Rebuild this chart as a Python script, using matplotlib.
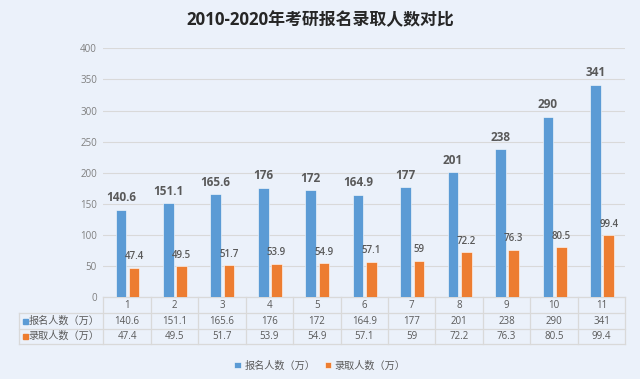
import matplotlib
matplotlib.use("Agg")
import matplotlib.pyplot as plt
from matplotlib.patches import Rectangle
import numpy as np

plt.rcParams['font.family'] = ['Open Sans', 'Noto Sans CJK SC', 'DejaVu Sans']

title = "2010-2020年考研报名录取人数对比"
categories = ["1", "2", "3", "4", "5", "6", "7", "8", "9", "10", "11"]
applicants = [140.6, 151.1, 165.6, 176, 172, 164.9, 177, 201, 238, 290, 341]
admitted = [47.4, 49.5, 51.7, 53.9, 54.9, 57.1, 59, 72.2, 76.3, 80.5, 99.4]
series_names = ["报名人数（万）", "录取人数（万）"]
yticks = [0, 50, 100, 150, 200, 250, 300, 350, 400]

BLUE = "#5B9BD5"
ORANGE = "#ED7D31"
BG = "#EBF1FA"
GRID = "#D9D9D9"
TXT = "#595959"

def fmt(v):
    return ("%g" % v)

fig = plt.figure(figsize=(6.4, 3.79), dpi=100)
fig.patch.set_facecolor(BG)
ax = fig.add_axes([103.3/640, 1-297.3/379, 522/640, (297.3-48.3)/379])
ax.set_facecolor(BG)

x = np.arange(1, len(categories)+1)
w = 0.225
b1 = ax.bar(x-0.13, applicants, w, color=BLUE, edgecolor="#FFFFFF", linewidth=0.4, zorder=3)
b2 = ax.bar(x+0.15, admitted, w, color=ORANGE, edgecolor="#FFFFFF", linewidth=0.4, zorder=3)

for xi, v in zip(x, applicants):
    ax.annotate(fmt(v), (xi-0.13, v), xytext=(0, 4), textcoords="offset points",
                ha="center", va="bottom", fontsize=8.5, fontweight="bold", color=TXT)
for xi, v in zip(x, admitted):
    ax.annotate(fmt(v), (xi+0.15, v), xytext=(0, 4), textcoords="offset points",
                ha="center", va="bottom", fontsize=7, fontweight="semibold", color=TXT)

ax.set_xlim(0.5, len(categories)+0.5)
ax.set_ylim(0, 400)
ax.set_yticks(yticks)
ax.set_yticklabels([str(t) for t in yticks], fontsize=7, color="#7F7F7F")
ax.tick_params(axis="y", length=0, pad=4.5)
ax.set_xticks([])
ax.grid(axis="y", color=GRID, linewidth=0.8, zorder=0)
for s in ax.spines.values():
    s.set_visible(False)

# data table
tr = ax.get_xaxis_transform()   # x data, y axes
ta = ax.transAxes
h_rows = [0.0, -0.064, -0.127, -0.189]
lx = -0.161
ax.plot([0.5, len(categories)+0.5], [0, 0], transform=tr, color=GRID, lw=0.9, clip_on=False)
for yy in h_rows[1:]:
    ax.plot([lx, 1], [yy, yy], transform=ta, color=GRID, lw=0.9, clip_on=False)
for xb in np.arange(0.5, len(categories)+1.0, 1.0):
    ax.plot([xb, xb], [0, h_rows[-1]], transform=tr, color=GRID, lw=0.9, clip_on=False)
ax.plot([lx, lx], [h_rows[1], h_rows[-1]], transform=ta, color=GRID, lw=0.9, clip_on=False)

ymid = [(h_rows[i]+h_rows[i+1])/2 for i in range(3)]
for xi, c in zip(x, categories):
    ax.text(xi, ymid[0], c, transform=tr, ha="center", va="center", fontsize=7, color=TXT)
for row, vals in zip([1, 2], [applicants, admitted]):
    for xi, v in zip(x, vals):
        ax.text(xi, ymid[row], fmt(v), transform=tr, ha="center", va="center", fontsize=7, color=TXT)
for row, name, col in zip([1, 2], series_names, [BLUE, ORANGE]):
    sq = 5/249
    ax.add_patch(Rectangle((-0.1545, ymid[row]-sq/2), 5/522, sq, transform=ta,
                           color=col, clip_on=False))
    ax.text(-0.143, ymid[row], name, transform=ta, ha="left", va="center", fontsize=7.3, color=TXT)

fig.text(0.5, 1-20/379, title, ha="center", va="center", fontsize=12.2,
         fontweight="bold", color="#262626")

fig.legend([b1, b2], series_names, loc="center", bbox_to_anchor=(0.5, 1-366/379),
           ncol=2, frameon=False, fontsize=7.3, handlelength=0.6, handleheight=0.6,
           handletextpad=0.4, columnspacing=0.9, labelcolor=TXT)

fig.savefig("out.png", dpi=100, facecolor=BG)
